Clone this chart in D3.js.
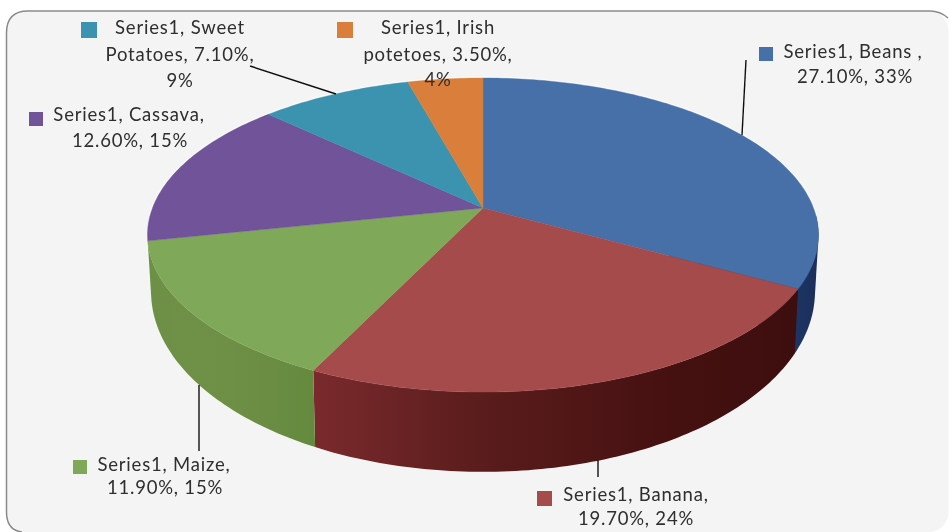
<!DOCTYPE html>
<html><head><meta charset="utf-8">
<script src="https://cdn.jsdelivr.net/npm/d3@7"></script>
<style>html,body{margin:0;padding:0;background:#fff}svg{display:block}text{font-family:Lato,"Open Sans",sans-serif;fill:#2f2f2f}</style>
</head><body><svg id="c" width="949" height="532"></svg>
<script>
const categories=["Beans","Banana","Maize","Cassava","Sweet Potatoes","Irish potetoes"];
const seriesValues=[27.1,19.7,11.9,12.6,7.1,3.5];
const sharePct=[33,24,15,15,9,4];
const valueLabels=["27.10%","19.70%","11.90%","12.60%","7.10%","3.50%"];
const seriesName="Series1";
const topColors=["#4670a9","#a54b4b","#7fa858","#6f5299","#3a93b0","#d97e3a"];

const svg=d3.select("#c");
const defs=svg.append("defs");
defs.append("filter").attr("id","soft").append("feGaussianBlur").attr("stdDeviation",0.45);

// chart frame
svg.append("rect").attr("x",6.5).attr("y",11).attr("width",942).attr("height",521).attr("rx",20)
  .attr("fill","#f4f4f4");
svg.append("path").attr("d","M22,532 Q6.5,530 6.5,512 V33 Q6.5,11 28,11 H930 Q940,11 948,18")
  .attr("fill","none").attr("stroke","#8a8a8a").attr("stroke-width",1.5);

// perspective projection of the pie's unit circle to the screen
const cx=483, k=0.172;
const project=(a,ax,y0,b)=>{const u=Math.sin(a),v=-Math.cos(a),w=1-k*v;return [cx+ax*u/w,y0+b*v/w];};
const topPt=a=>project(a,330.5,208,152.4);
const botPt=a=>project(a,327,260.5,175);
const arcPts=(fn,a0,a1)=>{const n=Math.max(2,Math.ceil((a1-a0)*60));return d3.range(n+1).map(i=>fn(a0+(a1-a0)*i/n));};

const pie=d3.pie().sort(null).value(d=>d)(seriesValues);
const line=d3.line();

// side walls
const wallStops=[
  [["0","#20386a"],["1","#182b55"]],
  [["0","#7a2a2c"],["0.35","#5a1c1c"],["0.75","#451010"],["1","#3d0e0e"]],
  [["0","#648a3e"],["0.5","#6e8f46"],["1","#6d9047"]]
];
const wallRange=[[780,830],[313,800],[316,148]];
[0,1,2].forEach(i=>{
  const g=defs.append("linearGradient").attr("id","w"+i).attr("gradientUnits","userSpaceOnUse")
    .attr("x1",wallRange[i][0]).attr("x2",wallRange[i][1]).attr("y1",0).attr("y2",0);
  wallStops[i].forEach(s=>g.append("stop").attr("offset",s[0]).attr("stop-color",s[1]));
  const d=pie[i];
  const pts=arcPts(topPt,d.startAngle,d.endAngle).concat(arcPts(botPt,d.startAngle,d.endAngle).reverse());
  // the outer silhouette of the cylinder is a tangent, so the first wall takes its hull
  const shape=i===0?d3.polygonHull(pts):pts;
  svg.append("path").attr("d",line(shape)+"Z").attr("fill",`url(#w${i})`);
});

// top faces
const apex=[cx,208];
const faces=svg.append("g").attr("filter","url(#soft)");
faces.append("path").attr("d",line(arcPts(topPt,-Math.PI/2-0.05,Math.PI/2+0.05))).attr("fill","none")
  .attr("stroke","#ffffff").attr("stroke-width",2.5);
pie.forEach((d,i)=>{
  faces.append("path").attr("d",line([apex].concat(arcPts(topPt,d.startAngle,d.endAngle)))+"Z")
    .attr("fill",topColors[i]).attr("stroke",topColors[i]).attr("stroke-width",0.4);
});

// labels
const layout=[
 {lines:[`${seriesName}, ${categories[0]} ,`,`${valueLabels[0]}, ${sharePct[0]}%`],xs:[853,855],ys:[52,77],sq:[759,47,14],lead:[[746,60],[742,135]]},
 {lines:[`${seriesName}, ${categories[1]},`,`${valueLabels[1]}, ${sharePct[1]}%`],xs:[636,636],ys:[495,519],sq:[537,491,15],lead:[[598,460],[598,477]]},
 {lines:[`${seriesName}, ${categories[2]},`,`${valueLabels[2]}, ${sharePct[2]}%`],xs:[164,165],ys:[465,488],sq:[73,460,14],lead:[[199,385],[199,451]]},
 {lines:[`${seriesName}, ${categories[3]},`,`${valueLabels[3]}, ${sharePct[3]}%`],xs:[129,130],ys:[115,141],sq:[29,112,14],lead:null},
 {lines:[`${seriesName}, Sweet`,`Potatoes, ${valueLabels[4]},`,`${sharePct[4]}%`],xs:[180,180,180],ys:[28,55,81],sq:[81,22,16],lead:[[250,66],[336,94]]},
 {lines:[`${seriesName}, Irish`,`potetoes, ${valueLabels[5]},`,`${sharePct[5]}%`],xs:[438,438,438],ys:[28,55,80],sq:[337,22,16],lead:null}
];
const lab=svg.append("g").attr("filter","url(#soft)");
layout.forEach((l,i)=>{
  if(l.lead) lab.append("path").attr("d",line(l.lead)).attr("stroke","#111").attr("stroke-width",1.4).attr("fill","none");
  lab.append("rect").attr("x",l.sq[0]).attr("y",l.sq[1]).attr("width",l.sq[2]).attr("height",l.sq[2]).attr("fill",topColors[i]);
  l.lines.forEach((t,j)=>lab.append("text").attr("x",l.xs[j]).attr("y",l.ys[j]).attr("dy","0.35em")
    .attr("text-anchor","middle").attr("font-size",18.5).attr("letter-spacing",0.8).text(t));
});
</script></body></html>
